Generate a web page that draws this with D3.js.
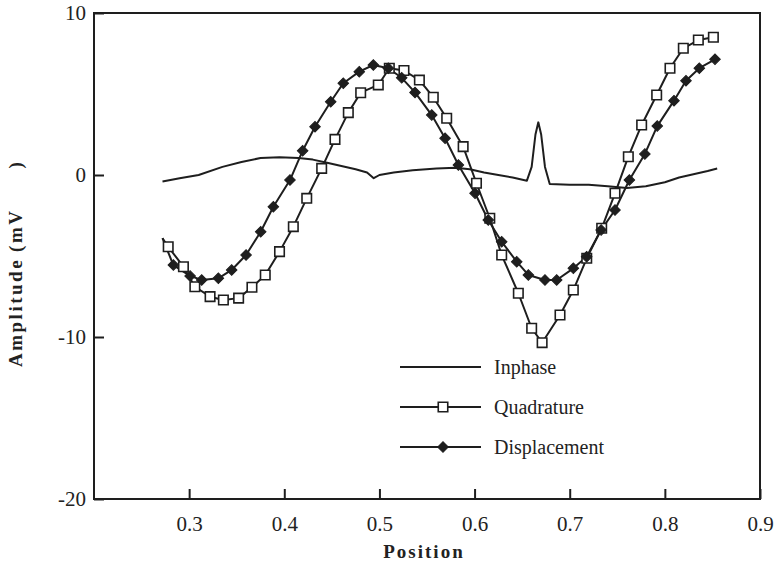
<!DOCTYPE html>
<html>
<head>
<meta charset="utf-8">
<script src="https://cdn.jsdelivr.net/npm/d3@7"></script>
<style>
  html, body { margin: 0; padding: 0; background: #fff; }
  svg text { font-family: "Liberation Serif", "Times New Roman", serif; fill: #222; }
</style>
</head>
<body>
<div id="chart"></div>
<script>
// ---- data: [position, amplitude mV] ----
const inphase = [
  [0.272, -0.4], [0.29, -0.2], [0.31, 0.0], [0.335, 0.5], [0.355, 0.8],
  [0.375, 1.05], [0.395, 1.1], [0.415, 1.05], [0.43, 0.95], [0.445, 0.75],
  [0.46, 0.55], [0.475, 0.35], [0.487, 0.15], [0.494, -0.2], [0.50, 0.0],
  [0.515, 0.15], [0.535, 0.3], [0.56, 0.4], [0.58, 0.45], [0.595, 0.35],
  [0.61, 0.15], [0.625, 0.0], [0.64, -0.15], [0.655, -0.35], [0.66, 0.5],
  [0.664, 2.5], [0.667, 3.25], [0.670, 2.5], [0.674, 0.5], [0.679, -0.55],
  [0.70, -0.6], [0.72, -0.6], [0.74, -0.7], [0.76, -0.8], [0.78, -0.7],
  [0.80, -0.45], [0.815, -0.15], [0.83, 0.05], [0.845, 0.25], [0.855, 0.4]
];

// first point of each marked series is the lead-in without a marker
const quadrature = [
  [0.272, -3.9], [0.278, -4.43], [0.294, -5.66], [0.306, -6.9], [0.322, -7.51],
  [0.336, -7.72], [0.352, -7.6], [0.366, -6.93], [0.380, -6.17], [0.395, -4.73],
  [0.4095, -3.19], [0.4236, -1.44], [0.4393, 0.41], [0.4533, 2.2], [0.4673, 3.85],
  [0.4803, 5.08], [0.4988, 5.56], [0.5104, 6.59], [0.5258, 6.45], [0.542, 5.86],
  [0.5566, 4.8], [0.5707, 3.5], [0.588, 1.75], [0.602, -0.51], [0.616, -2.67],
  [0.6285, -4.94], [0.646, -7.3], [0.66, -9.46], [0.671, -10.35], [0.6898, -8.64],
  [0.7038, -7.1], [0.7179, -5.14], [0.7336, -3.29], [0.7476, -1.13], [0.7616, 1.13],
  [0.7756, 3.09], [0.7914, 4.94], [0.8054, 6.59], [0.8194, 7.82], [0.8352, 8.33],
  [0.851, 8.5]
];

const displacement = [
  [0.272, -3.9], [0.2834, -5.56], [0.301, -6.23], [0.3132, -6.48], [0.3307, -6.38],
  [0.3447, -5.86], [0.3598, -4.94], [0.3752, -3.5], [0.3885, -1.96], [0.406, -0.31],
  [0.4193, 1.5], [0.4323, 2.98], [0.4488, 4.52], [0.462, 5.66], [0.4788, 6.38],
  [0.4936, 6.79], [0.5093, 6.59], [0.5234, 6.0], [0.5374, 5.1], [0.555, 3.7],
  [0.569, 2.27], [0.583, 0.62], [0.6005, -1.13], [0.6144, -2.78], [0.6285, -4.12],
  [0.6443, -5.35], [0.6565, -6.17], [0.674, -6.48], [0.6863, -6.48], [0.7038, -5.76],
  [0.7178, -5.04], [0.733, -3.4], [0.7476, -2.16], [0.7627, -0.31], [0.779, 1.3],
  [0.792, 3.02], [0.8096, 4.59], [0.8222, 5.82], [0.8362, 6.59], [0.8527, 7.14]
];

const xMajor = [0.3, 0.4, 0.5, 0.6, 0.7, 0.8, 0.9];
const xMinor = [0.25, 0.35, 0.45, 0.55, 0.65, 0.75, 0.85];
const yMajor = [10, 0, -10, -20];
const yMinor = [5, -5, -15];
const legendItems = ["Inphase", "Quadrature", "Displacement"];

// ---- layout ----
const W = 775, H = 567;
const m = { l: 94, r: 15, t: 13, b: 68 };
const ink = "#1e1e1e";

const svg = d3.select("#chart").append("svg").attr("width", W).attr("height", H);

const x = d3.scaleLinear().domain([0.2, 0.9]).range([m.l, W - m.r]);
const y = d3.scaleLinear().domain([-20, 10]).range([H - m.b, m.t]);

// ticks pointing inward
const gx = svg.append("g").attr("transform", `translate(0,${y(-20)})`);
gx.call(d3.axisBottom(x).tickValues(xMinor).tickSize(-6).tickFormat(""));
gx.call(d3.axisBottom(x).tickValues(xMajor).tickSize(-10).tickPadding(17).tickFormat(d3.format(".1f")));
const gy = svg.append("g").attr("transform", `translate(${x(0.2)},0)`);
gy.call(d3.axisLeft(y).tickValues(yMinor).tickSize(-6).tickFormat(""));
// plain hyphen for negatives, as in the original
gy.call(d3.axisLeft(y).tickValues(yMajor).tickSize(-10).tickPadding(8).tickFormat(d => String(d)));
svg.selectAll(".domain").remove();
svg.selectAll(".tick line").attr("stroke", ink).attr("stroke-width", 2);
svg.selectAll(".tick text").style("font-size", "21px").style("fill", "#222");

// frame
svg.append("rect")
  .attr("x", x(0.2)).attr("y", y(10))
  .attr("width", x(0.9) - x(0.2)).attr("height", y(-20) - y(10))
  .attr("fill", "none").attr("stroke", ink).attr("stroke-width", 2);

// axis titles
svg.append("text")
  .attr("x", 424).attr("y", 558)
  .attr("text-anchor", "middle")
  .style("font-size", "19px").style("font-weight", 700).style("letter-spacing", "2px")
  .text("Position");
const yt = svg.append("text")
  .attr("transform", "translate(22,367) rotate(-90)")
  .attr("text-anchor", "start")
  .style("font-size", "19px").style("font-weight", 700).style("letter-spacing", "2.5px");
yt.append("tspan").text("Amplitude");
yt.append("tspan").attr("dx", 6).text("(mV");
yt.append("tspan").attr("dx", 40).text(")");

// series
const line = d3.line().x(d => x(d[0])).y(d => y(d[1]));
const plot = svg.append("g");
[inphase, quadrature, displacement].forEach(s => {
  plot.append("path").datum(s)
    .attr("d", line)
    .attr("fill", "none").attr("stroke", ink)
    .attr("stroke-width", 2).attr("stroke-linejoin", "round");
});

const square = d3.symbol().type(d3.symbolSquare).size(90);
const diamond = d3.symbol().type(d3.symbolSquare).size(56);

const drawSquares = (g, pts) => g.selectAll(null).data(pts).join("path")
  .attr("d", square)
  .attr("transform", d => `translate(${x(d[0])},${y(d[1])})`)
  .attr("fill", "#fff").attr("stroke", ink).attr("stroke-width", 1.6);
const drawDiamonds = (g, pts) => g.selectAll(null).data(pts).join("path")
  .attr("d", diamond)
  .attr("transform", d => `translate(${x(d[0])},${y(d[1])}) rotate(45)`)
  .attr("fill", ink).attr("stroke", ink).attr("stroke-width", 1);

drawSquares(plot.append("g"), quadrature.slice(1));
drawDiamonds(plot.append("g"), displacement.slice(1));

// legend
const lg = svg.append("g");
legendItems.forEach((name, i) => {
  const ly = 367 + i * 40;
  lg.append("line").attr("x1", 400).attr("x2", 481).attr("y1", ly).attr("y2", ly)
    .attr("stroke", ink).attr("stroke-width", 2);
  if (i === 1) drawSquares(lg.append("g"), [[x.invert(443), y.invert(ly)]]);
  if (i === 2) drawDiamonds(lg.append("g"), [[x.invert(443), y.invert(ly)]]);
  lg.append("text").attr("x", 494).attr("y", ly).attr("dy", "0.35em")
    .style("font-size", "20px").text(name);
});
</script>
</body>
</html>
